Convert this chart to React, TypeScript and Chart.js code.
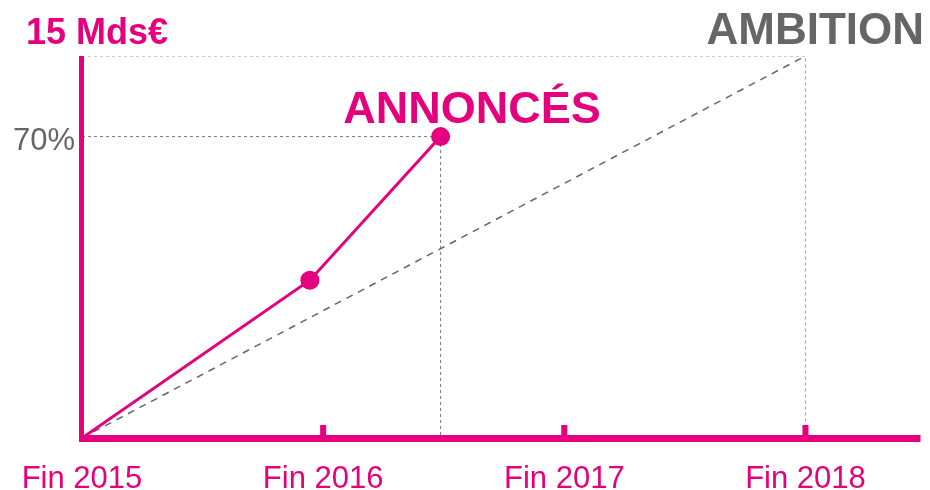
import React, { useEffect, useRef } from "react";
import { Chart, registerables } from "chart.js";

Chart.register(...registerables);

const MAGENTA = "#E5007D";
const GREY = "#666666";

// x in years after "Fin 2015"; y in % of the 15 Mds€ ambition (chart drawn stylised)
const yearLabels = ["Fin 2015", "Fin 2016", "Fin 2017", "Fin 2018"];
const tickYears = [1, 2, 3];
const annoncesX = [0, 0.945, 1.487];
const annoncesY = [0, 41.3, 78.9];
const annoncesRadius = [0, 9.5, 9.5];
const ambitionX = [0, 3];
const ambitionY = [0, 100];
const seventyLabel = "70%";
const topLabel = "15 Mds€";
const ambitionLabel = "AMBITION";
const annoncesLabel = "ANNONCÉS";
const X_MAX = 3.477;
const Y_MAX = 100;

const pts = (xs: number[], ys: number[]) => xs.map((x, i) => ({ x, y: ys[i] }));

export default function App() {
  const ref = useRef<HTMLCanvasElement | null>(null);
  useEffect(() => {
    if (!ref.current) return;
    const lastX = annoncesX[annoncesX.length - 1];
    const lastY = annoncesY[annoncesY.length - 1];
    const overlay = {
      id: "overlay",
      afterDatasetsDraw(chart: any) {
        const ctx = chart.ctx as CanvasRenderingContext2D;
        const xs = chart.scales.x;
        const ys = chart.scales.y;
        const x0 = xs.getPixelForValue(0);
        const y0 = ys.getPixelForValue(0);
        const yTop = ys.getPixelForValue(Y_MAX);
        const xEnd = xs.getPixelForValue(X_MAX);
        ctx.save();
        ctx.fillStyle = MAGENTA;
        // y axis
        ctx.fillRect(x0 - 3, yTop, 5, y0 - yTop + 4);
        // x axis
        ctx.fillRect(x0 - 3, y0 - 3, xEnd - x0 + 3, 7);
        // ticks
        tickYears.forEach((t) => {
          const px = xs.getPixelForValue(t);
          ctx.fillRect(px - 3, y0 - 13, 6, 12);
        });
        // tick labels
        ctx.font = "31px 'Liberation Sans', Arial, sans-serif";
        ctx.textAlign = "center";
        ctx.textBaseline = "alphabetic";
        yearLabels.forEach((l, i) => {
          ctx.fillText(l, xs.getPixelForValue(i), y0 + 50);
        });
        // 15 Mds€
        ctx.font = "bold 36px 'Liberation Sans', Arial, sans-serif";
        ctx.textAlign = "left";
        ctx.fillText(topLabel, 26, 44);
        // ANNONCÉS
        ctx.font = "bold 45px 'Liberation Sans', Arial, sans-serif";
        ctx.textAlign = "center";
        ctx.fillText(annoncesLabel, 472, 123);
        // AMBITION
        ctx.fillStyle = GREY;
        ctx.font = "bold 44px 'Liberation Sans', Arial, sans-serif";
        ctx.textAlign = "right";
        ctx.fillText(ambitionLabel, 924, 44);
        // 70%
        ctx.font = "31px 'Liberation Sans', Arial, sans-serif";
        ctx.textAlign = "right";
        ctx.fillText(seventyLabel, 75, ys.getPixelForValue(lastY) + 13);
        ctx.restore();
      },
    };
    const chart = new Chart(ref.current, {
      type: "line",
      data: {
        datasets: [
          {
            data: pts(annoncesX, annoncesY),
            borderColor: MAGENTA,
            backgroundColor: MAGENTA,
            borderWidth: 3,
            pointRadius: annoncesRadius,
            pointBackgroundColor: MAGENTA,
            pointBorderWidth: 0,
            fill: false,
          },
          {
            data: pts(ambitionX, ambitionY),
            borderColor: GREY,
            borderWidth: 1.5,
            borderDash: [7, 6],
            pointRadius: 0,
            fill: false,
          },
          {
            data: pts([0, lastX, lastX], [lastY, lastY, 0]),
            borderColor: "#777777",
            borderWidth: 1,
            borderDash: [3, 3],
            pointRadius: 0,
            fill: false,
          },
          {
            data: pts([0, ambitionX[1], ambitionX[1]], [Y_MAX, Y_MAX, 0]),
            borderColor: "#9a9a9a",
            borderWidth: 1,
            borderDash: [3, 3],
            pointRadius: 0,
            fill: false,
          },
        ],
      },
      options: {
        animation: false,
        responsive: false,
        events: [],
        layout: { padding: { left: 82, right: 9, top: 56, bottom: 52 } },
        plugins: { legend: { display: false }, tooltip: { enabled: false } },
        scales: {
          x: { type: "linear", min: 0, max: X_MAX, display: false },
          y: { type: "linear", min: 0, max: Y_MAX, display: false },
        },
      },
      plugins: [overlay],
    });
    return () => chart.destroy();
  }, []);
  return (
    <div style={{ position: "absolute", left: 0, top: 0, width: 930, height: 490, background: "#fff" }}>
      <canvas ref={ref} width={930} height={490} />
    </div>
  );
}
